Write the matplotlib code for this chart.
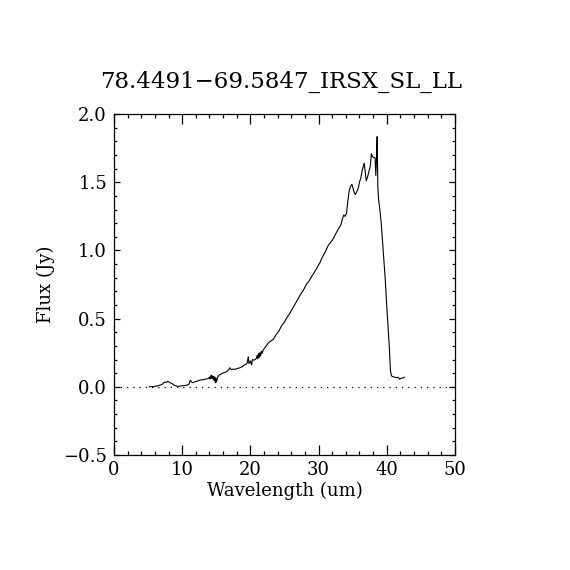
import matplotlib
matplotlib.use('Agg')
import matplotlib.pyplot as plt
from matplotlib.ticker import MultipleLocator

plt.rcParams['font.family'] = ['DejaVu Serif']

# spettro (lunghezza d'onda in um, flusso in Jy)
wavelength = [5.2, 5.5, 5.8, 6.0, 6.3, 6.6, 6.9, 7.1, 7.3, 7.5, 7.7, 7.9, 8.1, 8.3,
              8.5, 8.7, 8.9, 9.2, 9.5, 9.8, 10.1, 10.4, 10.7, 11.0, 11.2, 11.3, 11.5,
              11.8, 12.1, 12.4, 12.7, 13.0, 13.3, 13.6, 13.8,
              14.0, 14.08, 14.16, 14.24, 14.32, 14.4, 14.48, 14.56, 14.64, 14.72,
              14.8, 14.88, 14.96, 15.04, 15.1,
              15.2, 15.4, 15.6, 15.9, 16.2, 16.5, 16.8, 17.0, 17.2, 17.5, 17.8, 18.1,
              18.4, 18.7, 19.0, 19.3, 19.5, 19.7, 19.8, 20.0, 20.2, 20.3, 20.5, 20.7,
              20.9, 21.0, 21.1, 21.2, 21.3, 21.4, 21.5, 21.6, 21.7, 21.9, 22.1, 22.4,
              22.7, 23.0, 23.4, 23.8, 24.2, 24.6, 25.0, 25.4, 25.8, 26.2, 26.6, 27.0,
              27.4, 27.8, 28.2, 28.6, 29.0, 29.4, 29.8, 30.2, 30.6, 31.0, 31.4, 31.8,
              32.2, 32.6, 33.0, 33.3, 33.5, 33.7, 33.9, 34.1, 34.3, 34.5, 34.7, 34.9,
              35.0, 35.2, 35.4, 35.6, 35.8, 36.0, 36.2, 36.4, 36.6, 36.7, 36.85, 37.0,
              37.2, 37.4, 37.6, 37.75, 37.9, 38.1, 38.3, 38.4, 38.5, 38.6, 38.7, 38.8,
              39.0, 39.2, 39.4, 39.6, 39.8, 40.0, 40.2, 40.4, 40.55, 40.7, 40.9, 41.2,
              41.5, 41.7, 41.9, 42.1, 42.4, 42.6]
flux = [0.0, 0.002, 0.0, 0.004, 0.006, 0.010, 0.015, 0.020, 0.030, 0.035, 0.032, 0.040,
        0.033, 0.028, 0.025, 0.015, 0.010, 0.005, 0.004, 0.006, 0.008, 0.010, 0.012,
        0.020, 0.048, 0.040, 0.030, 0.035, 0.040, 0.045, 0.050, 0.052, 0.055, 0.058,
        0.060,
        0.070, 0.058, 0.080, 0.062, 0.085, 0.065, 0.078, 0.055, 0.075, 0.045,
        0.070, 0.030, 0.060, 0.035, 0.050,
        0.070, 0.085, 0.090, 0.100, 0.105, 0.110, 0.125, 0.140, 0.125, 0.130, 0.128,
        0.135, 0.138, 0.145, 0.155, 0.165, 0.170, 0.220, 0.170, 0.190, 0.160, 0.200,
        0.195, 0.200, 0.210, 0.230, 0.205, 0.245, 0.215, 0.250, 0.225, 0.260, 0.245,
        0.270, 0.285, 0.305, 0.325, 0.335, 0.350, 0.385, 0.410, 0.450, 0.475, 0.510,
        0.540, 0.575, 0.610, 0.645, 0.680, 0.710, 0.750, 0.775, 0.810, 0.840, 0.875,
        0.910, 0.955, 0.990, 1.035, 1.060, 1.090, 1.130, 1.165, 1.190, 1.230, 1.260,
        1.250, 1.270, 1.360, 1.440, 1.470, 1.485, 1.470, 1.430, 1.410, 1.430, 1.450,
        1.500, 1.530, 1.585, 1.620, 1.640, 1.580, 1.510, 1.540, 1.580, 1.620, 1.710,
        1.690, 1.680, 1.680, 1.550, 1.660, 1.835, 1.470, 1.380, 1.300, 1.200, 1.060,
        0.930, 0.780, 0.600, 0.440, 0.280, 0.120, 0.080, 0.075, 0.070, 0.067, 0.070,
        0.055, 0.063, 0.065, 0.070]

title = '78.4491\u221269.5847_IRSX_SL_LL'

fig = plt.figure(figsize=(5.7, 5.7), dpi=100)
ax = fig.add_axes([0.2, 0.2018, 0.598, 0.598])

ax.plot(wavelength, flux, color='black', lw=0.8)
ax.axhline(0.0, color='black', lw=0.9, ls=(0, (1, 4)))

ax.set_xlim(0, 50)
ax.set_ylim(-0.5, 2.0)
ax.xaxis.set_major_locator(MultipleLocator(10))
ax.xaxis.set_minor_locator(MultipleLocator(2))
ax.yaxis.set_major_locator(MultipleLocator(0.5))
ax.yaxis.set_minor_locator(MultipleLocator(0.1))
ax.yaxis.set_major_formatter(plt.FuncFormatter(lambda v, p: f'{v:.1f}'.replace('-', '\u2212')))

ax.tick_params(axis='both', which='both', direction='in', top=True, right=True,
               labelsize=13, width=0.9)
ax.tick_params(axis='x', which='major', length=7, pad=4)
ax.tick_params(axis='x', which='minor', length=3)
ax.tick_params(axis='y', which='major', length=4.5, pad=5)
ax.tick_params(axis='y', which='minor', length=2)
for s in ax.spines.values():
    s.set_linewidth(0.9)

ax.set_xlabel('Wavelength (um)', fontsize=13, labelpad=2)
ax.set_ylabel('Flux (Jy)', fontsize=13, labelpad=6)
ax.text(0.49, 1.095, title, transform=ax.transAxes, ha='center', va='center', fontsize=16.5)

fig.savefig('out.png', dpi=100)
